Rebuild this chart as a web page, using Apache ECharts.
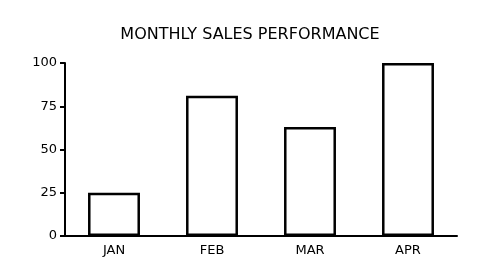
<!DOCTYPE html>
<html><head><meta charset="utf-8">
<script src="https://cdn.jsdelivr.net/npm/echarts@6/dist/echarts.min.js"></script>
<style>html,body{margin:0;padding:0;background:#fff}#c{width:500px;height:279px}</style>
</head><body><div id="c"></div>
<script>
const categories = ['JAN', 'FEB', 'MAR', 'APR'];
const salesValues = [25, 81, 63, 100];
const yTicks = [0, 25, 50, 75, 100];
const titleText = 'MONTHLY SALES PERFORMANCE';

const chart = echarts.init(document.getElementById('c'), null, {renderer: 'canvas'});
chart.setOption({
  animation: false,
  backgroundColor: '#fff',
  title: {
    text: titleText, left: 'center', top: 22,
    textStyle: {fontFamily: 'DejaVu Sans', fontWeight: 'normal', fontSize: 16, color: '#000'}
  },
  grid: {left: 65, right: 43, top: 63, bottom: 43},
  xAxis: {
    type: 'category', data: categories,
    axisLine: {lineStyle: {color: '#000', width: 2}},
    axisTick: {show: false},
    axisLabel: {color: '#000', fontFamily: 'DejaVu Sans', fontSize: 13, margin: 8}
  },
  yAxis: {
    type: 'value', min: yTicks[0], max: yTicks[yTicks.length - 1], interval: 25,
    axisLine: {show: true, lineStyle: {color: '#000', width: 2}},
    axisTick: {show: true, length: 5, lineStyle: {color: '#000', width: 2}},
    splitLine: {show: false},
    axisLabel: {color: '#000', fontFamily: 'DejaVu Sans', fontSize: 13, margin: 8}
  },
  series: [{
    type: 'bar', data: salesValues, barWidth: '53%',
    itemStyle: {color: '#fff', borderColor: '#000', borderWidth: 2.5}
  }]
});
</script></body></html>
